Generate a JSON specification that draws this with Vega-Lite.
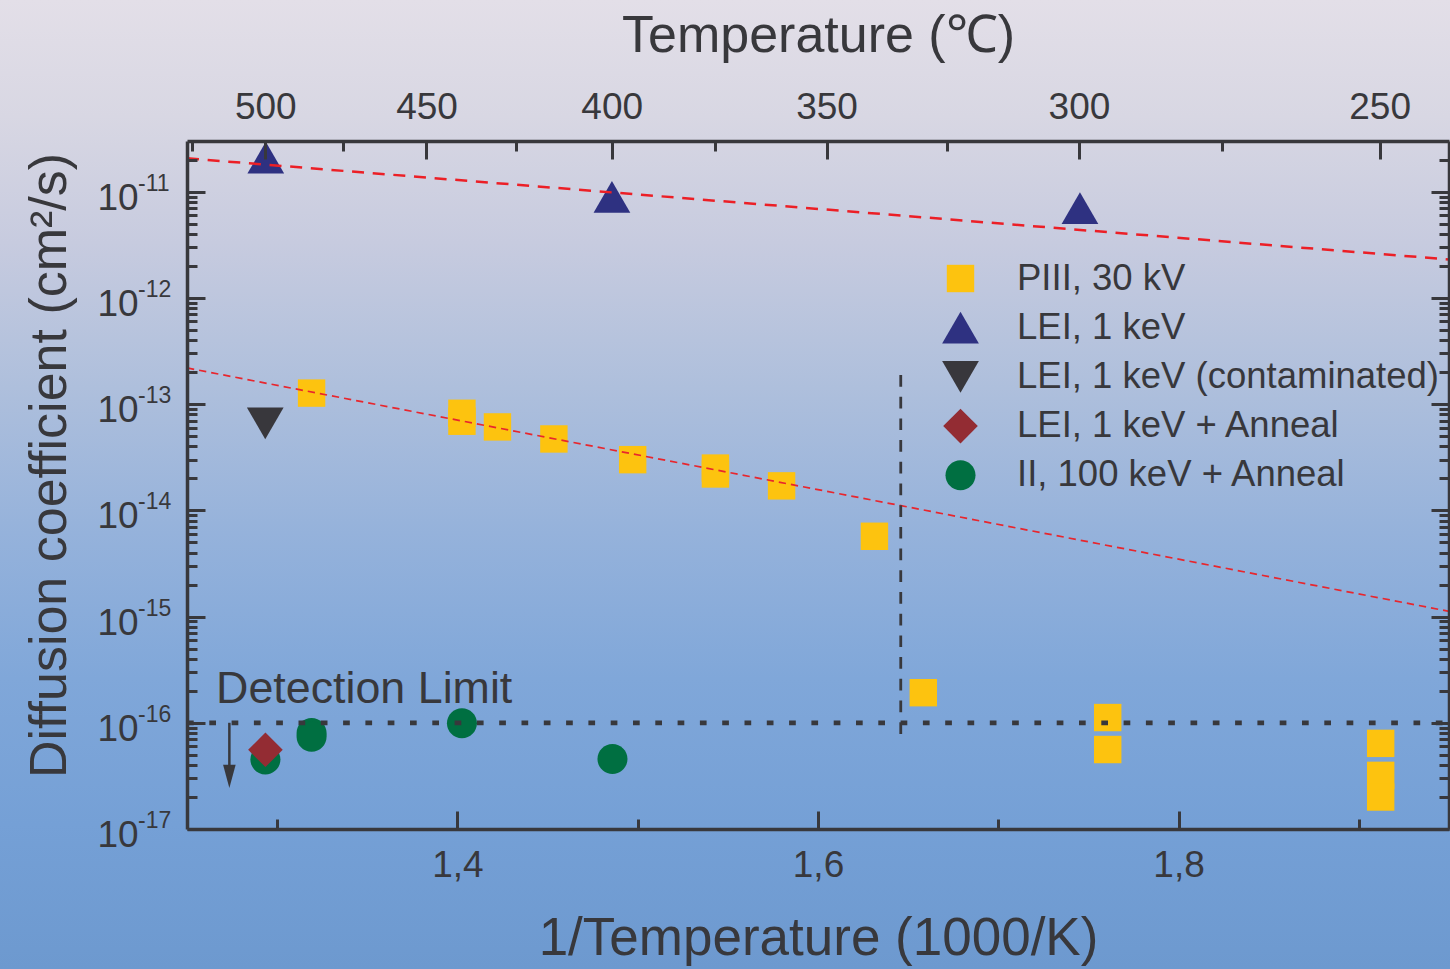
{
  "$schema": "https://vega.github.io/schema/vega-lite/v6.json",
  "width": 1262,
  "height": 688,
  "autosize": {"type": "none"},
  "padding": {"left": 187, "top": 141, "right": 1, "bottom": 140},
  "background": "#a4bbdb",
  "datasets": {
    "backdrop": [{"x1": 1.1, "x2": 2.0, "y1": 4.81e-19, "y2": 6.375e-10}],
    "points": [
      {"series": "II, 100 keV + Anneal", "x": 1.2935, "d": 4.52e-17},
      {"series": "II, 100 keV + Anneal", "x": 1.3191, "d": 8.0e-17},
      {"series": "II, 100 keV + Anneal", "x": 1.3191, "d": 7.4e-17},
      {"series": "II, 100 keV + Anneal", "x": 1.4025, "d": 9.9e-17},
      {"series": "II, 100 keV + Anneal", "x": 1.486, "d": 4.57e-17},
      {"series": "LEI, 1 keV + Anneal", "x": 1.2935, "d": 5.57e-17},
      {"series": "LEI, 1 keV (contaminated)", "x": 1.2934, "d": 6.6e-14},
      {"series": "LEI, 1 keV", "x": 1.2937, "d": 2.09e-11},
      {"series": "LEI, 1 keV", "x": 1.4857, "d": 8.95e-12},
      {"series": "LEI, 1 keV", "x": 1.7453, "d": 7.0e-12},
      {"series": "PIII, 30 kV", "x": 1.3191, "d": 1.27e-13},
      {"series": "PIII, 30 kV", "x": 1.4025, "d": 8.2e-14},
      {"series": "PIII, 30 kV", "x": 1.4025, "d": 6.9e-14},
      {"series": "PIII, 30 kV", "x": 1.4222, "d": 6.1e-14},
      {"series": "PIII, 30 kV", "x": 1.4535, "d": 4.7e-14},
      {"series": "PIII, 30 kV", "x": 1.4972, "d": 3.0e-14},
      {"series": "PIII, 30 kV", "x": 1.5431, "d": 2.5e-14},
      {"series": "PIII, 30 kV", "x": 1.5431, "d": 2.2e-14},
      {"series": "PIII, 30 kV", "x": 1.5798, "d": 1.7e-14},
      {"series": "PIII, 30 kV", "x": 1.6313, "d": 5.7e-15},
      {"series": "PIII, 30 kV", "x": 1.6584, "d": 1.92e-16},
      {"series": "PIII, 30 kV", "x": 1.7607, "d": 1.12e-16},
      {"series": "PIII, 30 kV", "x": 1.7607, "d": 5.6e-17},
      {"series": "PIII, 30 kV", "x": 1.9121, "d": 6.4e-17},
      {"series": "PIII, 30 kV", "x": 1.9121, "d": 3.2e-17},
      {"series": "PIII, 30 kV", "x": 1.9121, "d": 2.0e-17}
    ],
    "fits": [
      {"fit": "LEI", "x1": 1.25, "d1": 2.06e-11, "x2": 1.95, "d2": 2.3e-12},
      {"fit": "PIII", "x1": 1.25, "d1": 2.19e-13, "x2": 1.95, "d2": 1.12e-15}
    ],
    "cutoff": [{"x": 1.6459, "d1": 1.88e-13, "d2": 6.54e-17}],
    "limit": [{"x1": 1.25, "x2": 1.95, "d": 1e-16}],
    "arrow": [{"x": 1.2735, "d1": 1e-16, "d2": 3.6e-17, "tip": 3.13e-17}],
    "note": [{"x": 1.2661, "d": 1.533e-16, "text": "Detection Limit"}]
  },
  "layer": [
    {
      "data": {"name": "backdrop"},
      "mark": {
        "type": "rect",
        "fill": {
          "gradient": "linear", "x1": 0, "y1": 0, "x2": 0, "y2": 1,
          "stops": [
            {"offset": 0, "color": "#e3dfe8"},
            {"offset": 0.12, "color": "#d8d7e3"},
            {"offset": 0.25, "color": "#c7cbdf"},
            {"offset": 0.4, "color": "#aebfdc"},
            {"offset": 0.55, "color": "#95b2db"},
            {"offset": 0.7, "color": "#80a7d9"},
            {"offset": 0.85, "color": "#75a0d6"},
            {"offset": 1, "color": "#6d99cf"}
          ]
        }
      },
      "encoding": {
        "x": {"field": "x1", "type": "quantitative", "scale": {"domain": [1.25, 1.95], "nice": false, "zero": false},
          "axis": {"orient": "bottom", "values": [1.4, 1.6, 1.8], "labelExpr": "replace(format(datum.value, '.1f'), '.', ',')",
            "ticks": false, "tickSize": 0, "domain": false, "labelFontSize": 37, "labelBaseline": "alphabetic", "labelPadding": 47.5,
            "title": "1/Temperature (1000/K)", "titleFontSize": 53, "titleX": 631, "titleY": 125, "titleBaseline": "alphabetic", "titleAlign": "center", "zindex": 1}},
        "x2": {"field": "x2"},
        "y": {"field": "y1", "type": "quantitative", "scale": {"type": "log", "domain": [1e-17, 3e-11], "nice": false},
          "axis": {"orient": "left", "values": [1e-17, 1e-16, 1e-15, 1e-14, 1e-13, 1e-12, 1e-11], "labelExpr": "'10'",
            "ticks": false, "tickSize": 0, "domain": false, "labelFontSize": 37, "labelAlign": "right", "labelBaseline": "alphabetic",
            "labelPadding": 48.8, "labelOffset": 17.6,
            "title": "Diffusion coefficient (cm²/s)", "titleFontSize": 52, "titleAngle": 270, "titleX": -122, "titleY": 324,
            "titleBaseline": "alphabetic", "titleAlign": "center", "zindex": 1}},
        "y2": {"field": "y2"}
      }
    },
    {
      "data": {"name": "points"},
      "mark": {"type": "point", "filled": true, "opacity": 1, "strokeWidth": 0, "size": 1350},
      "encoding": {
        "x": {"field": "x", "type": "quantitative", "scale": {"domain": [1.25, 1.95], "nice": false, "zero": false},
          "axis": {"orient": "top", "values": [1.29341, 1.382839, 1.485553, 1.60475, 1.744744, 1.911497],
            "labelExpr": "format(1000 / datum.value - 273.15, '.0f')",
            "ticks": false, "tickSize": 0, "domain": false, "labelFontSize": 37, "labelBaseline": "alphabetic", "labelPadding": 22.7,
            "title": "Temperature (℃)", "titleFontSize": 52, "titleX": 631, "titleY": -90, "titleBaseline": "alphabetic", "titleAlign": "center", "zindex": 1}},
        "y": {"field": "d", "type": "quantitative", "scale": {"type": "log", "domain": [1e-17, 3e-11], "nice": false},
          "axis": {"orient": "left", "values": [1e-17, 1e-16, 1e-15, 1e-14, 1e-13, 1e-12, 1e-11],
            "labelExpr": "'' + round(log(datum.value) / LN10)",
            "ticks": false, "tickSize": 0, "domain": false, "labelFontSize": 23, "labelAlign": "left", "labelBaseline": "alphabetic",
            "labelPadding": 49.4, "labelOffset": -1.5, "title": null, "zindex": 1}},
        "color": {"field": "series", "type": "nominal",
          "scale": {"domain": ["PIII, 30 kV", "LEI, 1 keV", "LEI, 1 keV (contaminated)", "LEI, 1 keV + Anneal", "II, 100 keV + Anneal"],
            "range": ["#fdc30f", "#2e3181", "#38373c", "#932c33", "#006f41"]},
          "legend": {"title": null, "orient": "none", "legendX": 755, "legendY": 119}},
        "shape": {"field": "series", "type": "nominal",
          "scale": {"domain": ["PIII, 30 kV", "LEI, 1 keV", "LEI, 1 keV (contaminated)", "LEI, 1 keV + Anneal", "II, 100 keV + Anneal"],
            "range": [
              "M-0.746,-0.746L0.746,-0.746L0.746,0.746L-0.746,0.746Z",
              "M0,-0.866L1,0.866L-1,0.866Z",
              "M0,0.866L1,-0.866L-1,-0.866Z",
              "M0,-0.942L0.942,0L0,0.942L-0.942,0Z",
              "M0.817,0A0.817,0.817,0,1,1,-0.817,0A0.817,0.817,0,1,1,0.817,0Z"
            ]},
          "legend": {"title": null, "orient": "none", "legendX": 755, "legendY": 119}}
      }
    },
    {
      "data": {"name": "fits"},
      "transform": [{"filter": "datum.fit === 'LEI'"}],
      "mark": {"type": "rule", "color": "#ec1f26", "strokeWidth": 2.5, "strokeDash": [12, 8.7]},
      "encoding": {
        "x": {"field": "x1", "type": "quantitative", "scale": {"domain": [1.25, 1.95], "nice": false, "zero": false},
          "axis": {"orient": "bottom", "values": [1.4, 1.6, 1.8], "labels": false, "tickSize": -18, "domain": true, "title": null, "zindex": 1}},
        "x2": {"field": "x2"},
        "y": {"field": "d1", "type": "quantitative", "scale": {"type": "log", "domain": [1e-17, 3e-11], "nice": false},
          "axis": {"orient": "left", "values": [1e-17, 1e-16, 1e-15, 1e-14, 1e-13, 1e-12, 1e-11], "labels": false, "tickSize": -18, "domain": true, "title": null, "zindex": 1}},
        "y2": {"field": "d2"}
      }
    },
    {
      "data": {"name": "fits"},
      "transform": [{"filter": "datum.fit === 'PIII'"}],
      "mark": {"type": "rule", "color": "#e8262d", "strokeWidth": 1.7, "strokeDash": [7.3, 5]},
      "encoding": {
        "x": {"field": "x1", "type": "quantitative", "scale": {"domain": [1.25, 1.95], "nice": false, "zero": false},
          "axis": {"orient": "bottom", "values": [1.3, 1.5, 1.7, 1.9], "labels": false, "tickSize": -10, "domain": false, "title": null, "zindex": 1}},
        "x2": {"field": "x2"},
        "y": {"field": "d1", "type": "quantitative", "scale": {"type": "log", "domain": [1e-17, 3e-11], "nice": false},
          "axis": {"orient": "left", "values": [2e-17, 3e-17, 4e-17, 5e-17, 6e-17, 7e-17, 8e-17, 9e-17, 2e-16, 3e-16, 4e-16, 5e-16, 6e-16, 7e-16, 8e-16, 9e-16, 2e-15, 3e-15, 4e-15, 5e-15, 6e-15, 7e-15, 8e-15, 9e-15, 2e-14, 3e-14, 4e-14, 5e-14, 6e-14, 7e-14, 8e-14, 9e-14, 2e-13, 3e-13, 4e-13, 5e-13, 6e-13, 7e-13, 8e-13, 9e-13, 2e-12, 3e-12, 4e-12, 5e-12, 6e-12, 7e-12, 8e-12, 9e-12, 2e-11],
            "labels": false, "tickSize": -10, "domain": false, "title": null, "zindex": 1}},
        "y2": {"field": "d2"}
      }
    },
    {
      "data": {"name": "cutoff"},
      "mark": {"type": "rule", "color": "#38383c", "strokeWidth": 2.8, "strokeDash": [11.7, 10]},
      "encoding": {
        "x": {"field": "x", "type": "quantitative", "scale": {"domain": [1.25, 1.95], "nice": false, "zero": false},
          "axis": {"orient": "top", "values": [1.29341, 1.382839, 1.485553, 1.60475, 1.744744, 1.911497], "labels": false, "tickSize": -18, "domain": true, "title": null, "zindex": 1}},
        "y": {"field": "d1", "type": "quantitative", "scale": {"type": "log", "domain": [1e-17, 3e-11], "nice": false},
          "axis": {"orient": "right", "values": [1e-17, 1e-16, 1e-15, 1e-14, 1e-13, 1e-12, 1e-11], "labels": false, "tickSize": -18, "domain": true, "title": null, "zindex": 1}},
        "y2": {"field": "d2"}
      }
    },
    {
      "data": {"name": "limit"},
      "mark": {"type": "rule", "color": "#38383c", "strokeWidth": 4.7, "strokeDash": [6.7, 15.6]},
      "encoding": {
        "x": {"field": "x1", "type": "quantitative", "scale": {"domain": [1.25, 1.95], "nice": false, "zero": false},
          "axis": {"orient": "top", "values": [1.252897, 1.33663, 1.432357, 1.542853, 1.671821, 1.824318], "labels": false, "tickSize": -10, "domain": false, "title": null, "zindex": 1}},
        "x2": {"field": "x2"},
        "y": {"field": "d", "type": "quantitative", "scale": {"type": "log", "domain": [1e-17, 3e-11], "nice": false},
          "axis": {"orient": "right", "values": [2e-17, 3e-17, 4e-17, 5e-17, 6e-17, 7e-17, 8e-17, 9e-17, 2e-16, 3e-16, 4e-16, 5e-16, 6e-16, 7e-16, 8e-16, 9e-16, 2e-15, 3e-15, 4e-15, 5e-15, 6e-15, 7e-15, 8e-15, 9e-15, 2e-14, 3e-14, 4e-14, 5e-14, 6e-14, 7e-14, 8e-14, 9e-14, 2e-13, 3e-13, 4e-13, 5e-13, 6e-13, 7e-13, 8e-13, 9e-13, 2e-12, 3e-12, 4e-12, 5e-12, 6e-12, 7e-12, 8e-12, 9e-12, 2e-11],
            "labels": false, "tickSize": -10, "domain": false, "title": null, "zindex": 1}}
      }
    },
    {
      "data": {"name": "arrow"},
      "mark": {"type": "rule", "color": "#38383c", "strokeWidth": 2.5},
      "encoding": {
        "x": {"field": "x", "type": "quantitative", "scale": {"domain": [1.25, 1.95], "nice": false, "zero": false}, "axis": null},
        "y": {"field": "d1", "type": "quantitative", "scale": {"type": "log", "domain": [1e-17, 3e-11], "nice": false}, "axis": null},
        "y2": {"field": "d2"}
      }
    },
    {
      "data": {"name": "arrow"},
      "mark": {"type": "point", "filled": true, "opacity": 1, "strokeWidth": 0, "color": "#38383c", "shape": "M-0.54,-1L0.54,-1L0,1Z", "size": 543},
      "encoding": {
        "x": {"field": "x", "type": "quantitative", "scale": {"domain": [1.25, 1.95], "nice": false, "zero": false}, "axis": null},
        "y": {"field": "tip", "type": "quantitative", "scale": {"type": "log", "domain": [1e-17, 3e-11], "nice": false}, "axis": null}
      }
    },
    {
      "data": {"name": "note"},
      "mark": {"type": "text", "align": "left", "baseline": "alphabetic", "fontSize": 44.8, "font": "Liberation Sans", "color": "#38383c"},
      "encoding": {
        "x": {"field": "x", "type": "quantitative", "scale": {"domain": [1.25, 1.95], "nice": false, "zero": false}, "axis": null},
        "y": {"field": "d", "type": "quantitative", "scale": {"type": "log", "domain": [1e-17, 3e-11], "nice": false}, "axis": null},
        "text": {"field": "text"}
      }
    }
  ],
  "resolve": {"scale": {"x": "shared", "y": "shared"}, "axis": {"x": "independent", "y": "independent"}},
  "config": {
    "font": "Liberation Sans",
    "view": {"stroke": null},
    "axis": {
      "grid": false,
      "zindex": 1,
      "labelFont": "Liberation Sans",
      "labelColor": "#38383c",
      "tickColor": "#38383c",
      "tickWidth": 3,
      "domainColor": "#38383c",
      "domainWidth": 3.5,
      "titleFont": "Liberation Sans",
      "titleFontWeight": "normal",
      "titleColor": "#38383c",
      "labelFlush": false,
      "labelOverlap": false
    },
    "legend": {
      "labelFont": "Liberation Sans",
      "labelFontSize": 36.5,
      "labelColor": "#38383c",
      "labelLimit": 0,
      "labelOffset": 38,
      "rowPadding": 12.2,
      "padding": 0,
      "symbolSize": 1350,
      "symbolStrokeWidth": 0,
      "zindex": 1
    }
  }
}
